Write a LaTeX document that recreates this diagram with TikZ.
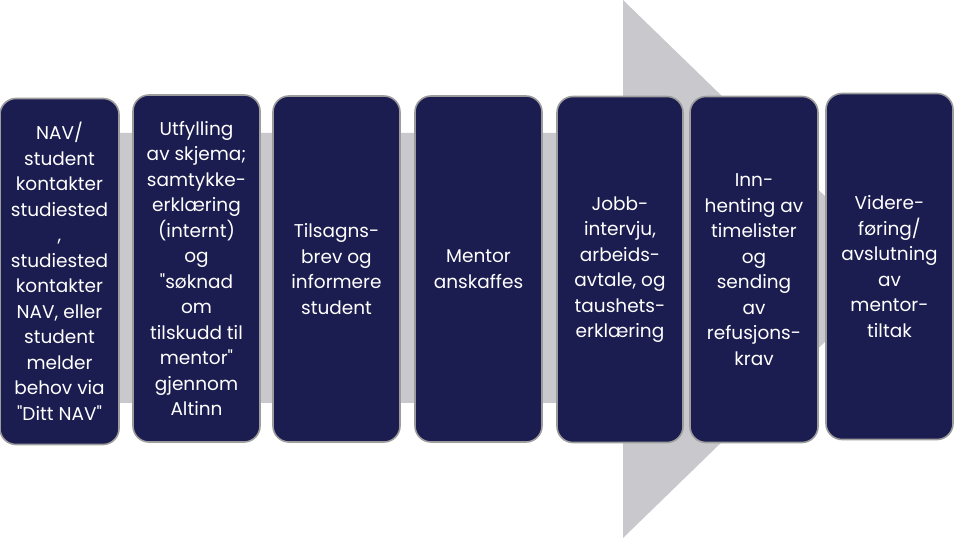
\documentclass[tikz,border=0pt]{standalone}
\usepackage{fontspec}
\setmainfont{Poppins}
\usetikzlibrary{positioning}
\definecolor{cN}{HTML}{1B1C4F}
\definecolor{cR}{HTML}{C9C9CD}
\definecolor{cB}{HTML}{9C9C9C}
\tikzset{
  stepbox/.style={draw=cB, fill=cN, line width=1.6pt, rounded corners=16pt,
    text=white, align=center, inner sep=0pt, minimum width=127pt, minimum height=346pt,
    font=\fontsize{18.5}{25.5}\selectfont},
}

\begin{document}
\begin{tikzpicture}[x=1pt,y=1pt]
\useasboundingbox (0,0) rectangle (956,538);
% --- background arrow ---
\fill[cR] (0,135) -- (623,135) -- (623,0) -- (900,269) -- (623,538) -- (623,405) -- (0,405) -- cycle;
% --- steps ---
\node[stepbox,minimum width=119pt] (s1) at (59.5,266.5) {NAV/\\student\\kontakter\\studiested\\,\\studiested\\kontakter\\NAV, eller\\student\\melder\\behov via\\\textquotedbl Ditt NAV\textquotedbl};
\node[stepbox,minimum height=347pt] (s2) at (196.5,269.5) {Utfylling\\av skjema;\\samtykke-\\erklæring\\(internt)\\og\\\textquotedbl søknad\\om\\tilskudd til\\mentor\textquotedbl\\gjennom\\Altinn};
\node[stepbox] (s3) at (336.5,269) {Tilsagns-\\brev og\\informere\\student};
\node[stepbox] (s4) at (478.5,269) {Mentor\\anskaffes};
\node[stepbox,minimum width=126pt] (s5) at (620,268.5) {Jobb-\\intervju,\\arbeids-\\avtale, og\\taushets-\\erklæring};
\node[stepbox,minimum width=128pt] (s6) at (754,268.5) {Inn-\\henting av\\timelister\\og\\sending\\av\\refusjons-\\krav};
\node[stepbox] (s7) at (889.5,271.5) {Videre-\\føring/\\avslutning\\av\\mentor-\\tiltak};
\end{tikzpicture}
\end{document}
